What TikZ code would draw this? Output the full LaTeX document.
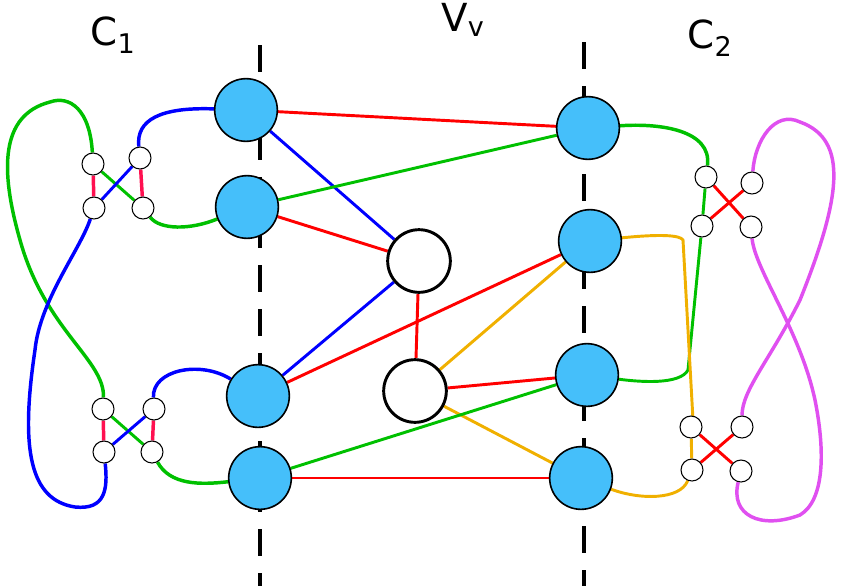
\documentclass[tikz,border=0pt]{standalone}
\usepackage{fontspec}
\setmainfont{DejaVu Sans}
\usetikzlibrary{backgrounds}
\definecolor{cblue}{HTML}{45BFFA}
\definecolor{lred}{HTML}{FF0000}
\definecolor{lgreen}{HTML}{00C000}
\definecolor{lblue}{HTML}{0000FF}
\definecolor{lorange}{HTML}{F0B000}
\definecolor{lmag}{HTML}{E050F0}
\definecolor{lpink}{HTML}{FF1050}
\tikzset{
 big/.style={circle,draw=black,line width=1.2pt,fill=cblue,minimum size=47pt,inner sep=0pt},
 bigw/.style={big,fill=white,line width=2.2pt},
 sm/.style={circle,draw=black,line width=0.8pt,fill=white,minimum size=16.5pt,inner sep=0pt},
 ed/.style={line width=2.2pt},
 cv/.style={line width=2.6pt},
 dsh/.style={line width=2.6pt,dash pattern=on 20pt off 13pt},
 lab/.style={font=\fontsize{29}{34}\selectfont}
}
\begin{document}
\begin{tikzpicture}[x=0.75pt,y=-0.75pt]
\useasboundingbox (0,0) rectangle (843,586);
\draw[dsh] (260,45) -- (260,586);
\draw[dsh] (584,42) -- (584,586);
\node[lab] (c1) at (113,35) {C$_{\mathrm 1}$};
\node[lab] (vv) at (463,20) {V$_{\mathrm v}$};
\node[lab] (c2) at (710,38) {C$_{\mathrm 2}$};
\node[big] (L1) at (246,110) {};
\node[big] (L2) at (247,207) {};
\node[big] (L3) at (258,396) {};
\node[big] (L4) at (260,478) {};
\node[big] (R1) at (588,128) {};
\node[big] (R2) at (590,241) {};
\node[big] (R3) at (587,375) {};
\node[big] (R4) at (581,478) {};
\node[bigw] (W1) at (419,261) {};
\node[bigw] (W2) at (415,391) {};
\node[sm] (a) at (93,164) {};
\node[sm] (b) at (140,158) {};
\node[sm] (c) at (94,208) {};
\node[sm] (d) at (143,208) {};
\node[sm] (e) at (103,409) {};
\node[sm] (f) at (154,409) {};
\node[sm] (g) at (104,452) {};
\node[sm] (h) at (152,452) {};
\node[sm] (p) at (706,177) {};
\node[sm] (q) at (752,183) {};
\node[sm] (r) at (702,226) {};
\node[sm] (s) at (751,227) {};
\node[sm] (t) at (691,427) {};
\node[sm] (u) at (742,427) {};
\node[sm] (v) at (692,470) {};
\node[sm] (w) at (741,471) {};
\begin{scope}[on background layer]
\draw[ed,lred] (L1) -- (R1);
\draw[ed,lblue] (L1) -- (W1);
\draw[ed,lgreen] (L2) -- (R1);
\draw[ed,lred] (L2) -- (W1);
\draw[ed,lblue] (L3) -- (W1);
\draw[ed,lred] (L3) -- (R2);
\draw[ed,lred] (W1) -- (W2);
\draw[ed,lorange] (W2) -- (R2);
\draw[ed,lred] (W2) -- (R3);
\draw[ed,lorange] (W2) -- (R4);
\draw[ed,lgreen] (L4) -- (R3);
\draw[ed,lred] (L4) -- (R4);
% left gadgets
\draw[cv,lpink] (a) -- (c); \draw[cv,lpink] (b) -- (d);
\draw[ed,lgreen] (a) -- (d); \draw[ed,lblue] (c) -- (b);
\draw[cv,lpink] (e) -- (g); \draw[cv,lpink] (f) -- (h);
\draw[ed,lgreen] (e) -- (h); \draw[ed,lblue] (g) -- (f);
\draw[cv,lblue] (b) .. controls (136,120) and (160,107) .. (L1);
\draw[cv,lgreen] (d) .. controls (160,230) and (190,230) .. (L2);
\draw[cv,lblue] (f) .. controls (152,370) and (200,360) .. (L3);
\draw[cv,lgreen] (h) .. controls (170,485) and (200,485) .. (L4);
\draw[cv,lgreen] (a) .. controls (90,110) and (70,95) .. (50,102) .. controls (0,115) and (0,170) .. (20,240) .. controls (45,330) and (105,360) .. (e);
\draw[cv,lblue] (c) .. controls (80,250) and (40,300) .. (35,350) .. controls (20,450) and (30,500) .. (75,507) .. controls (105,510) and (108,490) .. (g);
% right gadgets
\draw[ed,lred] (p) -- (s); \draw[ed,lred] (q) -- (r);
\draw[ed,lred] (t) -- (w); \draw[ed,lred] (u) -- (v);
\draw[ed,lgreen] (p) -- (r);
\draw[ed,lorange] (t) -- (v);
\draw[cv,lgreen] (R1) .. controls (660,123) and (712,130) .. (p);
\draw[ed,lgreen] (r) -- (688,370) .. controls (680,385) and (640,382) .. (R3);
\draw[ed,lorange] (R2) .. controls (660,234) and (680,235) .. (683,240) -- (693,420);
\draw[ed,lorange] (v) .. controls (680,500) and (640,500) .. (R4);
\draw[cv,lmag] (q) .. controls (755,140) and (775,110) .. (800,122) .. controls (850,140) and (840,200) .. (800,300) .. controls (770,360) and (742,390) .. (u);
\draw[cv,lmag] (s) .. controls (755,270) and (800,330) .. (815,400) .. controls (825,450) and (825,500) .. (800,515) .. controls (760,530) and (730,515) .. (w);
\end{scope}
\end{tikzpicture}
\end{document}
